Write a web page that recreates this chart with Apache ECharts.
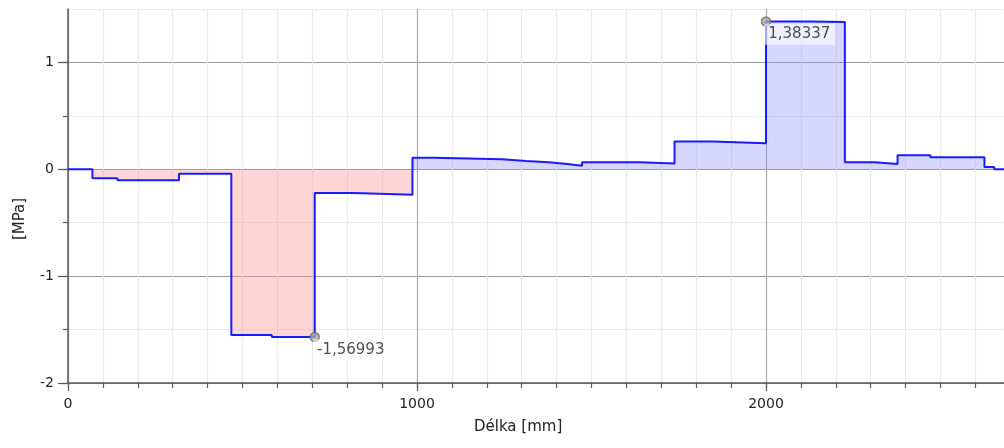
<!DOCTYPE html>
<html>
<head>
<meta charset="utf-8">
<title>Napětí po délce</title>
<script src="https://cdn.jsdelivr.net/npm/echarts@6/dist/echarts.min.js"></script>
<style>
  html, body { margin: 0; padding: 0; background: #ffffff; }
  #chart { width: 1004px; height: 448px; }
</style>
</head>
<body>
<div id="chart"></div>
<script>
// Step profile: each value holds from its start position to the next one [mm]
const segStart = [0, 70, 142, 318, 468, 584, 707, 818, 987, 1048, 1244, 1313, 1377, 1430,
                  1473, 1638, 1738, 1848, 2000, 2133, 2226, 2310, 2377, 2471, 2626, 2654];
const segValue = [0, -0.084, -0.103, -0.041, -1.55, -1.56993, -0.222, -0.238, 0.108, 0.094,
                  0.078, 0.066, 0.05, 0.034, 0.066, 0.053, 0.259, 0.244, 1.38337, 1.378,
                  0.066, 0.05, 0.131, 0.112, 0.022, 0];
const lengthEnd = 2682;

// Annotated extremes: position along the length and index of the step it belongs to
const noteX = [2000, 707];
const noteSeg = [18, 5];

const xMajorTicks = [0, 1000, 2000];
const yMajorTicks = [-2, -1, 0, 1];

const pts = segStart.map((x, i) => [x, segValue[i]]);
pts.push([lengthEnd, segValue[segValue.length - 1]]);
const posPts = pts.map(p => [p[0], Math.max(p[1], 0)]);
const negPts = pts.map(p => [p[0], Math.min(p[1], 0)]);
const notes = noteX.map((x, i) => [x, segValue[noteSeg[i]]]);

const fmt = v => String(v).replace('.', ',');
const font = 'DejaVu Sans';
const axisCol = '#5a5a5a';
const minorGrid = '#eaeaea';

const chart = echarts.init(document.getElementById('chart'), null, { renderer: 'canvas' });
chart.setOption({
  animation: false,
  backgroundColor: '#ffffff',
  grid: { left: 68, right: 0, top: 9, bottom: 65, containLabel: false },
  xAxis: [{
    type: 'value', min: 0, max: lengthEnd, interval: 100,
    axisLine: { show: true, onZero: false, lineStyle: { color: axisCol, width: 1.5 } },
    axisTick: { show: true, length: 5, lineStyle: { color: axisCol, width: 1.2 } },
    axisLabel: {
      margin: 14, color: '#222', fontFamily: font, fontSize: 14, showMaxLabel: false,
      formatter: v => (v % 1000 === 0 ? String(v) : '')
    },
    splitLine: {
      show: true,
      lineStyle: { color: ['#a8a8a8', minorGrid, minorGrid, minorGrid, minorGrid, minorGrid,
                           minorGrid, minorGrid, minorGrid, minorGrid], width: 1.2 }
    }
  }, {
    type: 'value', min: 0, max: lengthEnd, position: 'bottom', gridIndex: 0,
    axisLine: { show: false, onZero: false },
    axisTick: { show: true, length: 8, customValues: xMajorTicks, lineStyle: { color: axisCol, width: 1.2 } },
    axisLabel: { show: false },
    splitLine: { show: false }
  }],
  yAxis: [{
    type: 'value', min: -2, max: 1.5, interval: 0.5,
    axisLine: { show: true, onZero: false, lineStyle: { color: axisCol, width: 1.5 } },
    axisTick: { show: true, length: 5, lineStyle: { color: axisCol, width: 1.2 } },
    axisLabel: {
      margin: 14, color: '#222', fontFamily: font, fontSize: 14, showMaxLabel: false,
      formatter: v => (Number.isInteger(v) ? String(v) : '')
    },
    splitLine: { show: true, lineStyle: { color: ['#9a9a9a', minorGrid], width: 1.2 } }
  }, {
    type: 'value', min: -2, max: 1.5, position: 'left',
    axisLine: { show: false, onZero: false },
    axisTick: { show: true, length: 10, customValues: yMajorTicks, lineStyle: { color: axisCol, width: 1.2 } },
    axisLabel: { show: false },
    splitLine: { show: false }
  }],
  graphic: [{
    type: 'text', left: 474, top: 420,
    style: { text: 'Délka [mm]', font: '15px "DejaVu Sans"', fill: '#222' }
  }, {
    type: 'text', x: 20, y: 219, rotation: Math.PI / 2,
    style: { text: '[MPa]', font: '15px "DejaVu Sans"', fill: '#222',
             align: 'center', verticalAlign: 'middle' }
  }],
  series: [{
    name: 'kladné', type: 'line', step: 'end', data: posPts, symbol: 'none',
    lineStyle: { width: 0 }, areaStyle: { color: 'rgba(140,140,255,0.5)', origin: 0 }, z: 1
  }, {
    name: 'záporné', type: 'line', step: 'end', data: negPts, symbol: 'none',
    lineStyle: { width: 0 }, areaStyle: { color: 'rgba(255,140,140,0.5)', origin: 0 }, z: 1
  }, {
    name: 'napětí', type: 'line', step: 'end', data: pts, symbol: 'none',
    lineStyle: { color: '#1a1aff', width: 2 }, z: 3
  }, {
    name: 'extrémy', type: 'scatter', data: notes, symbol: 'circle', symbolSize: 9,
    itemStyle: { color: '#a8a8a8', borderColor: '#6a6a6a', borderWidth: 1.5 }, z: 5,
    label: {
      show: true, position: [3.5, 7.5], align: 'left', verticalAlign: 'top',
      formatter: p => fmt(p.value[1]),
      fontFamily: font, fontSize: 15, color: '#222',
      backgroundColor: 'rgba(255,255,255,0.75)', padding: [3, 5, 3, 4]
    }
  }]
});
</script>
</body>
</html>
